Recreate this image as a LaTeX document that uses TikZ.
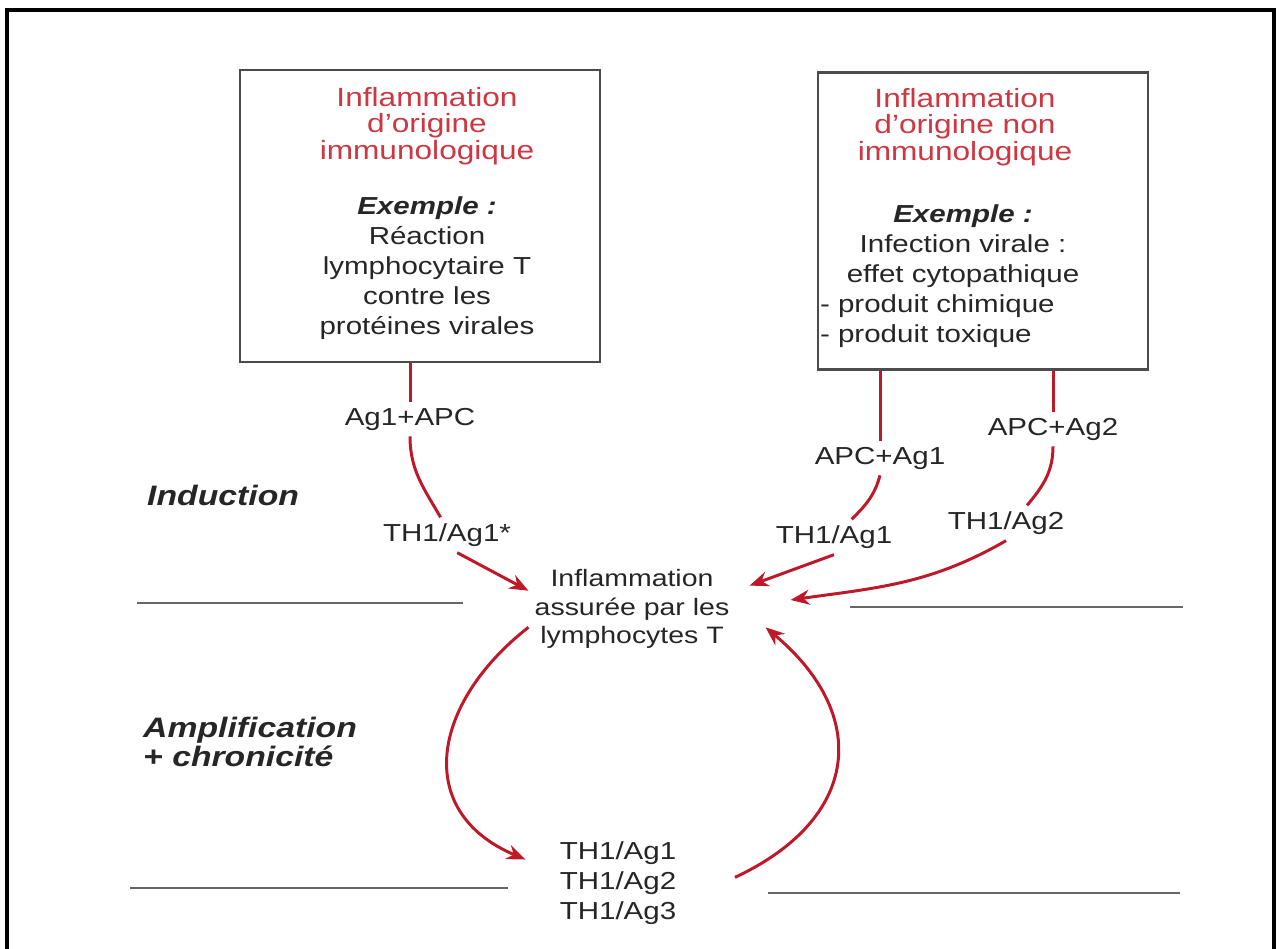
\documentclass[tikz,border=0pt]{standalone}
\usepackage{fontspec}
\setmainfont{Liberation Sans}[FakeStretch=1.2]
\usepackage{tikz}
\usetikzlibrary{arrows.meta}

\definecolor{titred}{RGB}{205,55,65}
\definecolor{arrred}{RGB}{190,25,40}

\tikzset{
  box/.style={draw=black!70, line width=1.2pt},
  lbl/.style={text=black!85, align=center, font=\fontsize{14}{17}\selectfont},
  titl/.style={text=titred, align=center, font=\fontsize{15}{15}\selectfont},
  phase/.style={text=black!85, align=left, anchor=west, font=\fontsize{16}{16.5}\selectfont\bfseries\itshape},
  lnk/.style={draw=arrred, line width=1.7pt},
  arr/.style={lnk, -{Stealth[length=3.8mm, width=3mm]}},
  rule/.style={draw=black!60, line width=1.3pt}
}

\begin{document}
\begin{tikzpicture}[x=0.02cm, y=-0.02cm]
  \useasboundingbox (0,0) rectangle (1280,949);
  % frame
  \draw[line width=1.8pt] (7,949) -- (7,10) -- (1274,10) -- (1274,949);

  % immunological origin
  \node[box, minimum width=7.2cm, minimum height=5.84cm] (box1) at (420,216) {};
  \node[titl] (tit1) at (427,126) {Inflammation\\d'origine\\immunologique};
  \node[lbl] (ex1) at (427,268) {\textbf{\textit{Exemple :}}\\Réaction\\lymphocytaire T\\contre les\\protéines virales};

  % non immunological origin
  \node[box, minimum width=6.6cm, minimum height=5.94cm] (box2) at (983,221) {};
  \node[titl] (tit2) at (965,127) {Inflammation\\d'origine non\\immunologique};
  \node[lbl] (ex2) at (963,276) {\textbf{\textit{Exemple :}}\\Infection virale :\\effet cytopathique\\
    \makebox[5.72cm][l]{- produit chimique}\\\makebox[5.72cm][l]{- produit toxique}};

  % phases
  \node[phase] (ind) at (141,495) {Induction};
  \node[phase] (amp) at (137,742) {Amplification\\+ chronicité};

  % separators
  \draw[rule] (137,603) -- (463,603);
  \draw[rule] (850,607) -- (1183,607);
  \draw[rule] (130,888) -- (508,888);
  \draw[rule] (768,893) -- (1180,893);

  % labels on the paths
  \node[lbl] (a1) at (410,419) {Ag1+APC};
  \node[lbl] (b1) at (447,535) {TH1/Ag1*};
  \node[lbl] (a2) at (880,458) {APC+Ag1};
  \node[lbl] (b2) at (834,537) {TH1/Ag1};
  \node[lbl] (a3) at (1053,429) {APC+Ag2};
  \node[lbl] (b3) at (1006,523) {TH1/Ag2};

  % T cell inflammation
  \node[lbl, font=\fontsize{13.5}{16.4}\selectfont] (c) at (632,609) {Inflammation\\assurée par les\\lymphocytes T};
  % TH1 clones
  \node[lbl] (d) at (618,883) {TH1/Ag1\\TH1/Ag2\\TH1/Ag3};

  % path Ag1
  \draw[lnk] (a1 |- box1.south) -- (a1.north);
  \draw[lnk] (a1.south) to[out=-90, in=120] (b1.110);
  \draw[arr] (b1.-60) -- (c.170);
  % path APC+Ag1
  \draw[lnk] (a2 |- box2.south) -- (a2.north);
  \draw[lnk] (a2.south) to[out=-105, in=45] (b2.45);
  \draw[arr, shorten >=0.3cm] (b2.south) -- (c.10);
  % path APC+Ag2
  \draw[lnk] (a3 |- box2.south) -- (a3.north);
  \draw[lnk] (a3.south) to[out=-90, in=50] (b3.40);
  \draw[arr] (b3.south) to[out=210, in=8] ([xshift=1.1cm]c.5);

  % amplification loop
  \draw[arr] (c.190) to[out=218, in=157, looseness=1.35] ([xshift=-0.56cm]d.160);
  \draw[arr] ([xshift=1.05cm]d.5) to[out=25, in=-40, looseness=1.4] ([xshift=0.6cm]c.-10);
\end{tikzpicture}
\end{document}
